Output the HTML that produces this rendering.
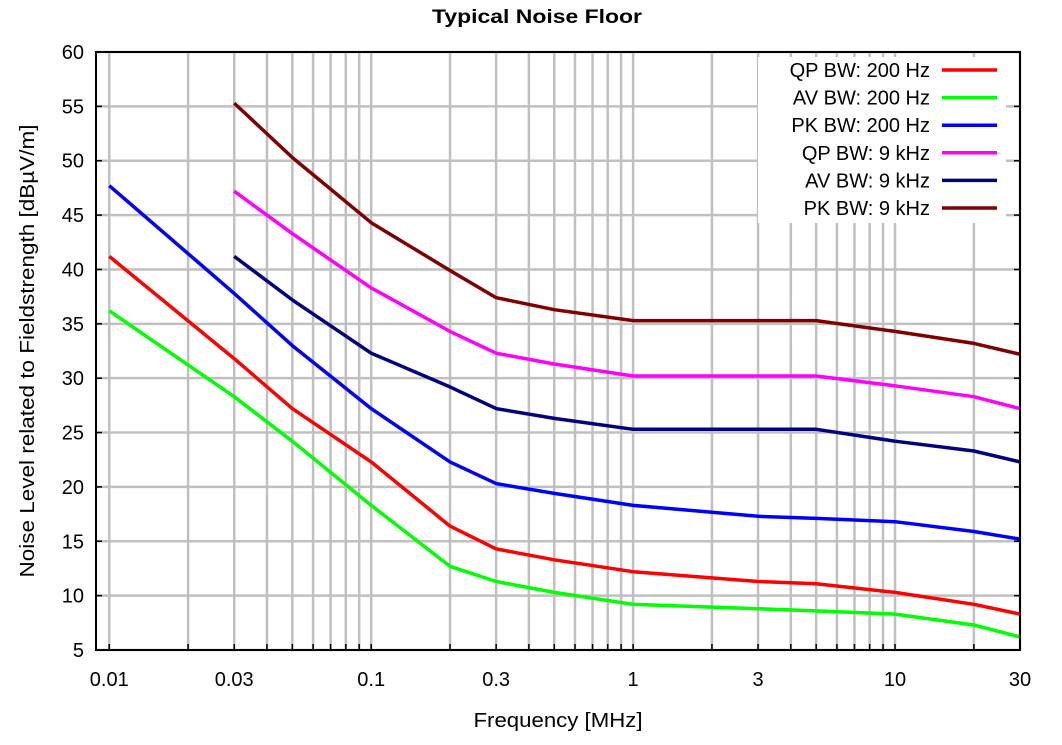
<!DOCTYPE html>
<html><head><meta charset="utf-8"><style>
body{margin:0;background:#fff}
svg text{font-family:"Liberation Sans",Arial,sans-serif}
</style></head><body>
<svg id="c" width="1062" height="740" xmlns="http://www.w3.org/2000/svg">
<text x="537" y="23" text-anchor="middle" font-size="19" font-weight="bold" textLength="210" lengthAdjust="spacingAndGlyphs">Typical Noise Floor</text>
<text x="558" y="727" text-anchor="middle" font-size="20" textLength="169" lengthAdjust="spacingAndGlyphs">Frequency [MHz]</text>
<text transform="translate(34,351) rotate(-90)" text-anchor="middle" font-size="20" textLength="453" lengthAdjust="spacingAndGlyphs">Noise Level related to Fieldstrength [dBµV/m]</text>
<g id="grid"></g><g id="legbg"></g><g id="series"></g><g id="axes"></g><g id="legend"></g>
</svg>
<script>
const freqs200=[0.01,0.03,0.05,0.1,0.2,0.3,0.5,1,3,5,10,20,30];
const freqs9k=[0.03,0.05,0.1,0.2,0.3,0.5,1,3,5,10,20,30];
const qp200=[41.2,31.8,27.2,22.3,16.4,14.3,13.3,12.2,11.3,11.1,10.3,9.2,8.3];
const av200=[36.2,28.3,24.2,18.3,12.7,11.3,10.3,9.2,8.8,8.6,8.3,7.3,6.2];
const pk200=[47.7,37.8,33.0,27.2,22.3,20.3,19.4,18.3,17.3,17.1,16.8,15.9,15.2];
const qp9k=[47.2,43.3,38.3,34.3,32.3,31.3,30.2,30.2,30.2,29.3,28.3,27.2];
const av9k=[41.2,37.2,32.3,29.2,27.2,26.3,25.3,25.3,25.3,24.2,23.3,22.3];
const pk9k=[55.3,50.3,44.3,39.9,37.4,36.3,35.3,35.3,35.3,34.3,33.2,32.2];
const seriesNames=["QP BW: 200 Hz","AV BW: 200 Hz","PK BW: 200 Hz","QP BW: 9 kHz","AV BW: 9 kHz","PK BW: 9 kHz"];
const xTickLabels=[0.01,0.03,0.1,0.3,1,3,10,30];
const yTicks=[5,10,15,20,25,30,35,40,45,50,55,60];

const L=96,R=1020,T=52,B=650,xmin=0.0089,xmax=30,ymin=5,ymax=60;
const NS="http://www.w3.org/2000/svg";
function X(f){return L+(Math.log10(f)-Math.log10(xmin))/(Math.log10(xmax)-Math.log10(xmin))*(R-L);}
function Y(v){return B-(v-ymin)/(ymax-ymin)*(B-T);}
function mk(tag,attrs,parent){const e=document.createElementNS(NS,tag);for(const k in attrs)e.setAttribute(k,attrs[k]);document.getElementById(parent).appendChild(e);return e;}

for(let d=-2;d<=1;d++){for(let m=1;m<=9;m++){const f=m*Math.pow(10,d);if(f<0.01||f>30)continue;const x=X(f);
 const g=mk('line',{x1:x,x2:x,y1:T,y2:B,stroke:'#c0c0c0','stroke-width':2.5},'grid');
 
 
 const t=mk('line',{x1:x,x2:x,y1:B,y2:B-6,stroke:'#000','stroke-width':1.5},'axes');
 
 }}
yTicks.forEach(v=>{const y=Y(v);
 const g=mk('line',{x1:L,x2:R,y1:y,y2:y,stroke:'#c0c0c0','stroke-width':2.5},'grid');
 
 
 const t=mk('text',{x:L-12,y:y+7,'text-anchor':'end','font-size':20},'axes');t.textContent=v;
 
 
 mk('line',{x1:L,x2:L+6,y1:y,y2:y,stroke:'#000','stroke-width':1.5},'axes');
 mk('line',{x1:R,x2:R-6,y1:y,y2:y,stroke:'#000','stroke-width':1.5},'axes');});
xTickLabels.forEach(f=>{const t=mk('text',{x:X(f),y:686,'text-anchor':'middle','font-size':20},'axes');t.textContent=f;
 
 });
const fr=mk('rect',{x:L,y:T,width:R-L,height:B-T,fill:'none',stroke:'#000','stroke-width':2},'axes');


const lb=mk('rect',{x:758,y:57,width:248,height:166,fill:'#fff'},'legbg');



const allSeries=[[freqs200,qp200,'#ff0000'],[freqs200,av200,'#00ff00'],[freqs200,pk200,'#0000ff'],[freqs9k,qp9k,'#ff00ff'],[freqs9k,av9k,'#000080'],[freqs9k,pk9k,'#800000']];
allSeries.forEach((s,i)=>{const pts=s[0].map((f,j)=>X(f).toFixed(1)+','+Y(s[1][j]).toFixed(1)).join(' ');
 const p=mk('polyline',{points:pts,fill:'none',stroke:s[2],'stroke-width':3.5,'stroke-linejoin':'round'},'series');
 
 
 const ly=70+i*27.6;
 const t=mk('text',{x:930,y:ly+7,'text-anchor':'end','font-size':20},'legend');t.textContent=seriesNames[i];
 
 
 const l=mk('line',{x1:942,x2:997,y1:ly,y2:ly,stroke:s[2],'stroke-width':3.5},'legend');
 
 });
</script>
</body></html>
